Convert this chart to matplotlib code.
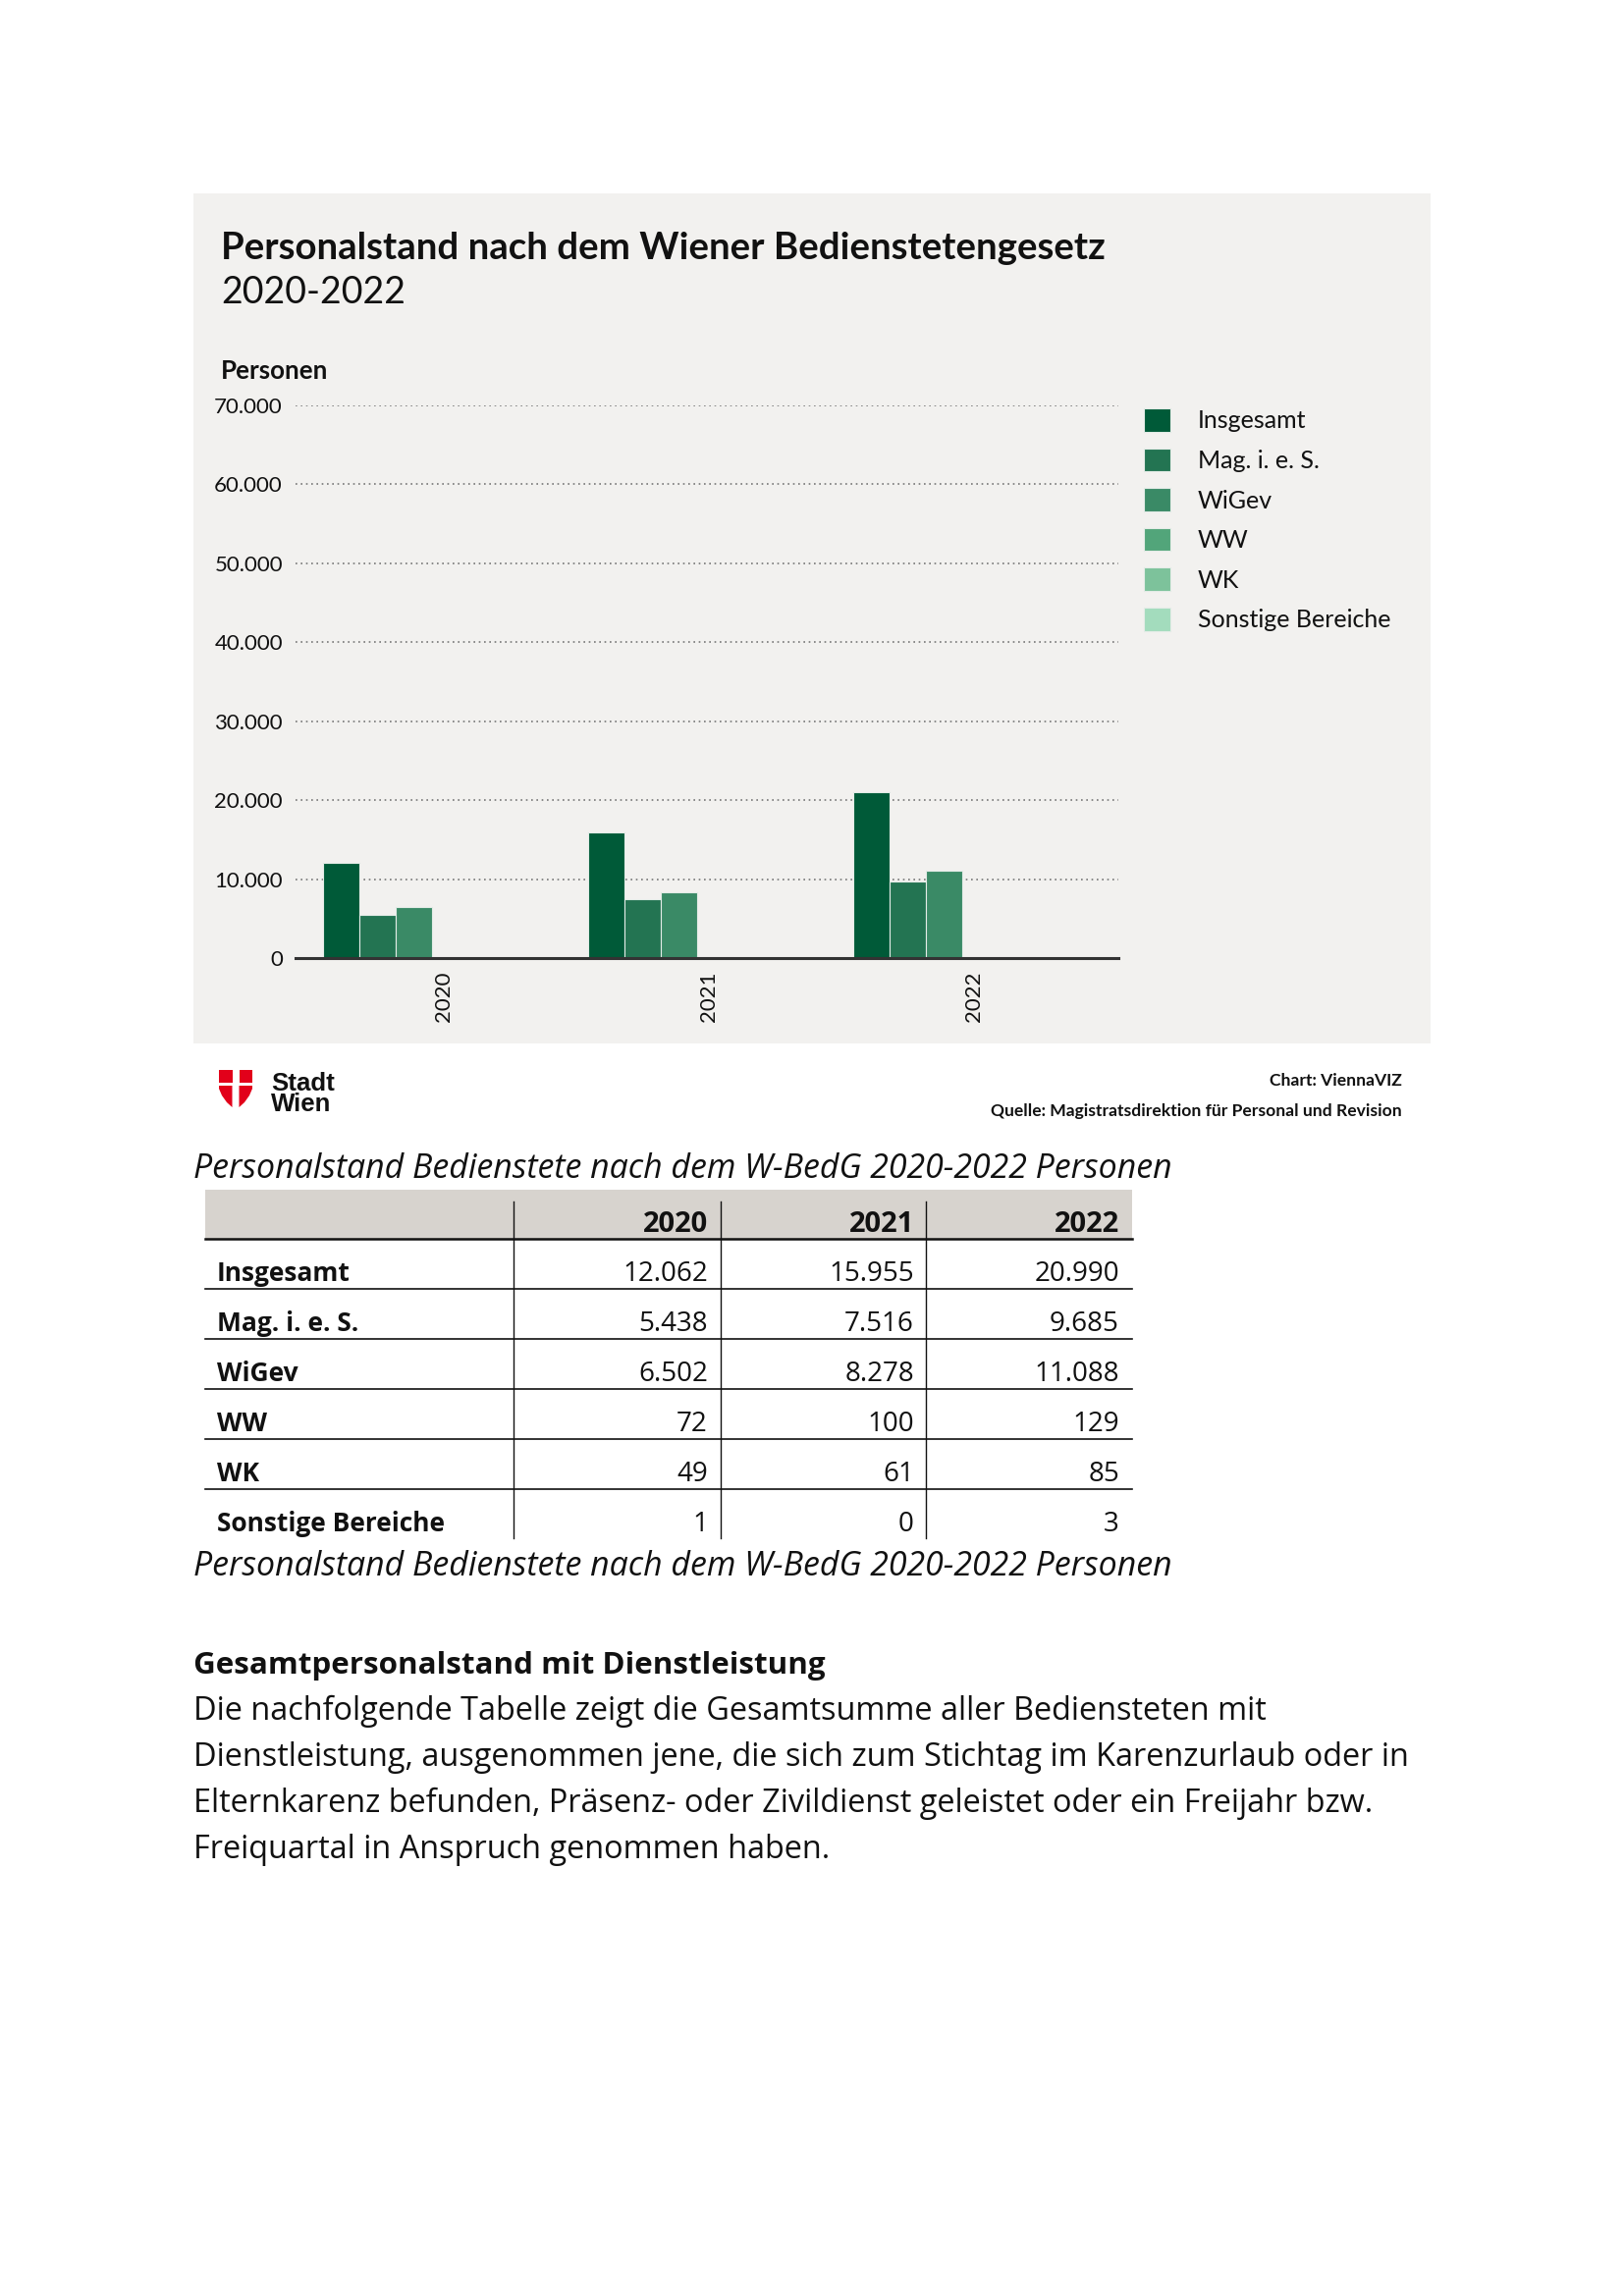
import matplotlib
matplotlib.use('Agg')
import matplotlib.pyplot as plt
from matplotlib.patches import Rectangle, Polygon
from matplotlib.ticker import FuncFormatter
import numpy as np

# ── Data ──────────────────────────────────────────────────────────────────────
years = ['2020', '2021', '2022']
series_names = ['Insgesamt', 'Mag. i. e. S.', 'WiGev', 'WW', 'WK', 'Sonstige Bereiche']
insgesamt = [12062, 15955, 20990]
mag = [5438, 7516, 9685]
wigev = [6502, 8278, 11088]
ww = [72, 100, 129]
wk = [49, 61, 85]
sonstige = [1, 0, 3]
series_values = [insgesamt, mag, wigev, ww, wk, sonstige]
y_ticks = [0, 10000, 20000, 30000, 40000, 50000, 60000, 70000]

colors = ['#005a38', '#237452', '#3a8a66', '#52a57a', '#7dc29b', '#a3dcbd']
panel_bg = '#f2f1ef'

W, H = 1654, 2339
DPI = 200
FONT = 'Lato'          # chart font
TEXT = 'Open Sans'     # page font


def de(v):
    return f'{v:,}'.replace(',', '.')


fig = plt.figure(figsize=(W / DPI, H / DPI), dpi=DPI)
fig.patch.set_facecolor('white')

# page-level axes in pixel coords (y down)
bg = fig.add_axes([0, 0, 1, 1], zorder=0)
bg.set_xlim(0, W)
bg.set_ylim(H, 0)
bg.axis('off')

# ── Chart panel ───────────────────────────────────────────────────────────────
bg.add_patch(Rectangle((197, 197), 1260, 866, facecolor=panel_bg, edgecolor='none'))
bg.text(225, 264, 'Personalstand nach dem Wiener Bedienstetengesetz', family=FONT,
        fontweight='bold', fontsize=13.8, color='#111', va='baseline')
bg.text(225, 309, '2020-2022', family=FONT, fontsize=13.5,
        color='#111', va='baseline')
bg.text(225, 386, 'Personen', family=FONT, fontweight='bold', fontsize=9.3,
        color='#111', va='baseline')

# bar chart axes
ax_l, ax_r, ax_b, ax_t = 301, 1139, 976, 413
ax = fig.add_axes([ax_l / W, 1 - ax_b / H, (ax_r - ax_l) / W, (ax_b - ax_t) / H], zorder=2)
ax.patch.set_alpha(0)

group_px = 270.0
bar_w = 37 / group_px
shift = -0.044           # bars sit slightly left of the year label
x = np.arange(len(years))
bars = []
for i, (name, vals) in enumerate(zip(series_names, series_values)):
    b = ax.bar(x + shift + (i - 2.5) * bar_w, vals, width=bar_w, color=colors[i],
               edgecolor='#e4ece7', linewidth=0.4, label=name, zorder=3)
    bars.append(b)

ax.set_xlim((ax_l - 452) / group_px, (ax_r - 452) / group_px)
ax.set_ylim(0, 70000)
ax.set_yticks(y_ticks)
ax.yaxis.set_major_formatter(FuncFormatter(lambda v, p: de(int(v))))
ax.set_xticks(x)
ax.set_xticklabels(years, rotation=90, va='top', ha='center')
ax.tick_params(axis='both', length=0)
ax.tick_params(axis='y', pad=4.7, labelsize=8, labelcolor='#111')
ax.tick_params(axis='x', pad=5.0, labelsize=8, labelcolor='#111')
for lab in ax.get_yticklabels() + ax.get_xticklabels():
    lab.set_family(FONT)
ax.yaxis.grid(True, linestyle=(0, (1, 2.2)), color='#777', linewidth=0.6, zorder=1)
ax.set_axisbelow(True)
for s in ['top', 'right', 'left']:
    ax.spines[s].set_visible(False)
ax.spines['bottom'].set_color('#333')
ax.spines['bottom'].set_linewidth(1.1)
ax.spines['bottom'].set_zorder(4)

leg = fig.legend(handles=bars, labels=series_names, loc='upper left',
                 bbox_to_anchor=(1165 / W, 1 - 416 / H), frameon=False,
                 prop={'family': FONT, 'size': 9}, handlelength=1.08,
                 handleheight=1.08, handletextpad=1.1, labelspacing=0.65,
                 borderpad=0, borderaxespad=0)
for t in leg.get_texts():
    t.set_color('#111')

# ── Footer: logo + source ─────────────────────────────────────────────────────
red = '#e2001a'
bg.add_patch(Rectangle((223, 1090), 13.5, 13, facecolor=red, edgecolor='none'))
bg.add_patch(Rectangle((243.5, 1090), 13.5, 13, facecolor=red, edgecolor='none'))
bg.add_patch(Polygon([(223, 1106), (236.5, 1106), (236.5, 1128), (231, 1123),
                      (226, 1116), (223, 1109)], facecolor=red, edgecolor='none'))
bg.add_patch(Polygon([(257, 1106), (243.5, 1106), (243.5, 1128), (249, 1123),
                      (254, 1116), (257, 1109)], facecolor=red, edgecolor='none'))
bg.text(276, 1111, 'Stadt', family='Liberation Sans', fontweight='bold', fontsize=9.3,
        color='#111', va='baseline')
bg.text(276, 1132, 'Wien', family='Liberation Sans', fontweight='bold', fontsize=9.3,
        color='#111', va='baseline')
bg.text(1428, 1106, 'Chart: ViennaVIZ', family=FONT, fontweight='bold',
        fontsize=6.3, color='#111', ha='right', va='baseline')
bg.text(1428, 1137, 'Quelle: Magistratsdirektion für Personal und Revision', family=FONT,
        fontweight='bold', fontsize=6.3, color='#111', ha='right', va='baseline')

# ── Table ─────────────────────────────────────────────────────────────────────
caption = 'Personalstand Bedienstete nach dem W-BedG 2020-2022 Personen'
bg.text(197, 1200, caption, family=TEXT, style='italic', fontsize=12.2,
        color='#111', va='baseline')

t_left, t_right = 209, 1153
col_right = [721, 931, 1140]
col_sep = [523, 734, 943]
bg.add_patch(Rectangle((t_left, 1212), t_right - t_left, 50, facecolor='#d7d3ce',
                       edgecolor='none'))
for cx, yr in zip(col_right, years):
    bg.text(cx, 1255, yr, family=TEXT, fontweight='bold', fontsize=10.5,
            color='#111', ha='right', va='baseline')
bg.plot([t_left, t_right], [1262, 1262], color='#111', lw=0.9)
row_pitch = 51
for r, (name, vals) in enumerate(zip(series_names, series_values)):
    base = 1305 + r * row_pitch
    bg.text(221, base, name, family=TEXT, fontweight='bold', fontsize=9.5,
            color='#111', va='baseline')
    for cx, v in zip(col_right, vals):
        bg.text(cx, base, de(v), family=TEXT, fontsize=10, color='#111',
                ha='right', va='baseline')
    if r < len(series_names) - 1:
        bg.plot([t_left, t_right], [1313 + r * row_pitch] * 2, color='#111', lw=0.6)
for sx in col_sep:
    bg.plot([sx, sx], [1224, 1567], color='#111', lw=0.5)
bg.text(197, 1605, caption, family=TEXT, style='italic', fontsize=12.2,
        color='#111', va='baseline')

# ── Body text ─────────────────────────────────────────────────────────────────
bg.text(197, 1705, 'Gesamtpersonalstand mit Dienstleistung', family=TEXT,
        fontweight='bold', fontsize=11.3, color='#111', va='baseline')
body = ['Die nachfolgende Tabelle zeigt die Gesamtsumme aller Bediensteten mit',
        'Dienstleistung, ausgenommen jene, die sich zum Stichtag im Karenzurlaub oder in',
        'Elternkarenz befunden, Präsenz- oder Zivildienst geleistet oder ein Freijahr bzw.',
        'Freiquartal in Anspruch genommen haben.']
for k, line in enumerate(body):
    bg.text(197, 1752 + k * 47, line, family=TEXT, fontsize=11.7, color='#111',
            va='baseline')

fig.savefig('out.png', dpi=DPI, facecolor='white')
plt.close(fig)
